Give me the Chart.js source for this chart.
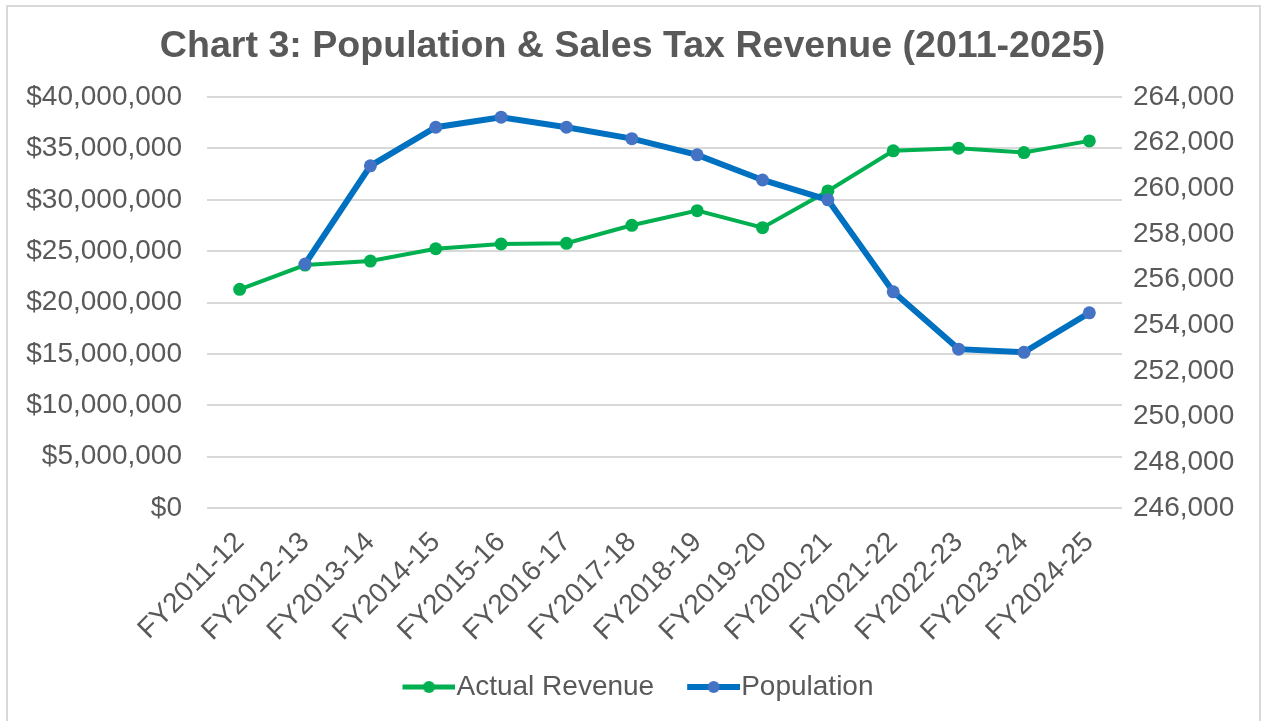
<!DOCTYPE html>
<html>
<head>
<meta charset="utf-8">
<script src="https://cdn.jsdelivr.net/npm/chart.js@4.4.1/dist/chart.umd.min.js"></script>
<style>
  html, body { margin: 0; padding: 0; background: #ffffff; }
  #wrap { position: relative; width: 1265px; height: 721px; overflow: hidden; }
  #frame { position: absolute; left: 6px; top: 5px; width: 1255px; height: 740px; border: 2px solid #d9d9d9; box-sizing: border-box; }
  canvas { position: absolute; left: 0; top: 0; }
</style>
</head>
<body>
<div id="wrap">
  <div id="frame"></div>
  <canvas id="c" width="1265" height="721"></canvas>
</div>
<script>
const categories = ["FY2011-12","FY2012-13","FY2013-14","FY2014-15","FY2015-16","FY2016-17","FY2017-18","FY2018-19","FY2019-20","FY2020-21","FY2021-22","FY2022-23","FY2023-24","FY2024-25"];
const actualRevenue = [21290000, 23650000, 24040000, 25240000, 25700000, 25770000, 27520000, 28950000, 27290000, 30870000, 34770000, 35030000, 34600000, 35740000];
const population = [null, 256690, 260990, 262680, 263120, 262680, 262180, 261470, 260370, 259500, 255470, 252960, 252820, 254550];
const seriesNames = ["Actual Revenue", "Population"];
const titleText = "Chart 3: Population & Sales Tax Revenue (2011-2025)";

const GREEN = "#00B050";
const BLUE_LINE = "#0070C0";
const BLUE_PT = "#4472C4";
const TEXT = "#595959";
const GRID = "#d9d9d9";
const FONT = "'Liberation Sans', Arial, sans-serif";

// legend marker: line with a dot; transparent on the left so the line sits right next to the text
const MARK_W = 53, IMG_W = 89;
function legendImg(lineColor, lineW, ptColor, r) {
  const cv = document.createElement('canvas');
  cv.width = IMG_W; cv.height = 16;
  const g = cv.getContext('2d');
  const x0 = IMG_W - MARK_W;
  g.strokeStyle = lineColor; g.lineWidth = lineW;
  g.beginPath(); g.moveTo(x0, 8); g.lineTo(IMG_W, 8); g.stroke();
  g.fillStyle = ptColor;
  g.beginPath(); g.arc(x0 + MARK_W / 2, 8, r, 0, Math.PI * 2); g.fill();
  return cv;
}
const legendImgs = [legendImg(GREEN, 5, GREEN, 6), legendImg(BLUE_LINE, 6, BLUE_PT, 6)];

// nudge the legend block slightly left, as in the reference
const legendShift = {
  id: 'legendShift',
  afterLayout(chart) {
    if (chart.legend) { chart.legend.left -= 6; chart.legend.right -= 6; }
  }
};

new Chart(document.getElementById('c'), {
  type: 'line',
  plugins: [legendShift],
  data: {
    labels: categories,
    datasets: [
      {
        label: seriesNames[0], data: actualRevenue, yAxisID: 'y',
        borderColor: GREEN, backgroundColor: GREEN, borderWidth: 4,
        pointRadius: 6.5, pointBackgroundColor: GREEN, pointBorderColor: GREEN, pointBorderWidth: 0,
        tension: 0, order: 2
      },
      {
        label: seriesNames[1], data: population, yAxisID: 'y1',
        borderColor: BLUE_LINE, backgroundColor: BLUE_PT, borderWidth: 6,
        pointRadius: 6.5, pointBackgroundColor: BLUE_PT, pointBorderColor: BLUE_PT, pointBorderWidth: 0,
        tension: 0, order: 1, spanGaps: false
      }
    ]
  },
  options: {
    responsive: false,
    animation: false,
    devicePixelRatio: 1,
    layout: { padding: { left: 0, right: 0, top: 0, bottom: 10 } },
    plugins: {
      tooltip: { enabled: false },
      title: {
        display: true, text: titleText, color: TEXT,
        font: { family: FONT, size: 37.6, weight: 'bold', lineHeight: 1.2 },
        padding: { top: 24, bottom: 28 }
      },
      legend: {
        position: 'bottom',
        labels: {
          color: TEXT,
          font: { family: FONT, size: 28 },
          usePointStyle: true,
          pointStyleWidth: IMG_W - 26,
          boxHeight: 16,
          padding: 10,
          generateLabels: (chart) => chart.data.datasets.map((ds, i) => ({
            text: ds.label, fillStyle: ds.borderColor, strokeStyle: ds.borderColor,
            lineWidth: 0, pointStyle: legendImgs[i], datasetIndex: i, hidden: false, fontColor: TEXT
          }))
        }
      }
    },
    scales: {
      x: {
        offset: true,
        grid: { display: false, drawTicks: false },
        border: { display: false },
        ticks: { color: TEXT, font: { family: FONT, size: 28 }, minRotation: 45, maxRotation: 45, padding: 18, autoSkip: false },
        afterFit: (s) => { s.height = 155; }
      },
      y: {
        position: 'left', min: 0, max: 40000000,
        grid: { color: GRID, lineWidth: 2, drawTicks: false },
        border: { display: false },
        ticks: { stepSize: 5000000, color: TEXT, font: { family: FONT, size: 28 }, padding: 25,
          callback: (v) => '$' + Number(v).toLocaleString('en-US') },
        afterFit: (s) => { s.width = 207; }
      },
      y1: {
        position: 'right', min: 246000, max: 264000,
        grid: { display: false, drawTicks: false },
        border: { display: false },
        ticks: { stepSize: 2000, color: TEXT, font: { family: FONT, size: 28 }, padding: 11,
          callback: (v) => Number(v).toLocaleString('en-US') },
        afterFit: (s) => { s.width = 143; }
      }
    }
  }
});
</script>
</body>
</html>
